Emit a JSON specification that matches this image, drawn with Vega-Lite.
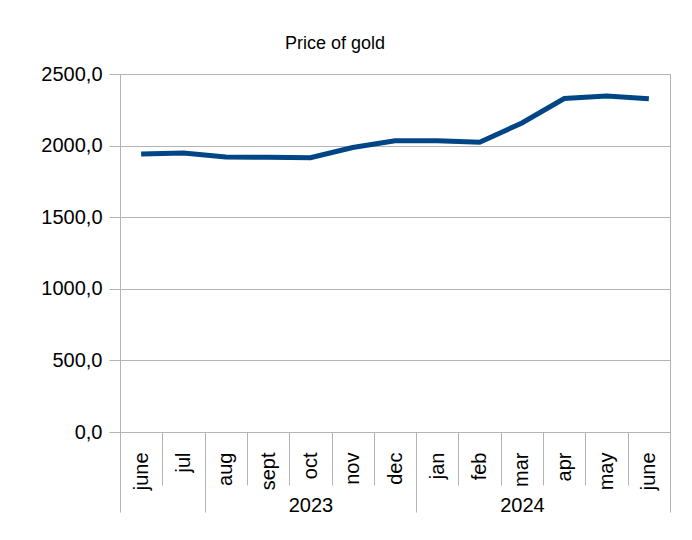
{
  "$schema": "https://vega.github.io/schema/vega-lite/v6.json",
  "autosize": "none",
  "padding": {"left": 120, "top": 74, "right": 22, "bottom": 108},
  "width": 550,
  "height": 358,
  "background": "white",
  "config": {
    "font": "Liberation Sans",
    "view": {"stroke": "#b3b3b3", "strokeWidth": 1},
    "axis": {"labelFont": "Liberation Sans", "labelColor": "#000000", "domainColor": "#b3b3b3", "tickColor": "#b3b3b3", "gridColor": "#b3b3b3", "titleFontSize": 0}
  },
  "title": {"text": "Price of gold", "font": "Liberation Sans", "fontSize": 18, "fontWeight": "normal", "color": "#000000", "baseline": "alphabetic", "offset": -3, "anchor": "middle", "frame": "group", "dx": -60},
  "layer": [
    {
      "data": {"values": [
        {"key": "2023-06", "month": "june", "price": 1942},
        {"key": "2023-07", "month": "jul", "price": 1948},
        {"key": "2023-08", "month": "aug", "price": 1920},
        {"key": "2023-09", "month": "sept", "price": 1918},
        {"key": "2023-10", "month": "oct", "price": 1915},
        {"key": "2023-11", "month": "nov", "price": 1987},
        {"key": "2023-12", "month": "dec", "price": 2033},
        {"key": "2024-01", "month": "jan", "price": 2033},
        {"key": "2024-02", "month": "feb", "price": 2023},
        {"key": "2024-03", "month": "mar", "price": 2158},
        {"key": "2024-04", "month": "apr", "price": 2329},
        {"key": "2024-05", "month": "may", "price": 2346},
        {"key": "2024-06", "month": "june", "price": 2328}
      ]},
      "mark": {"type": "line", "color": "#004586", "strokeWidth": 5, "strokeCap": "butt"},
      "encoding": {
        "x": {
          "field": "key", "type": "ordinal", "sort": null,
          "scale": {"type": "band", "paddingInner": 0, "paddingOuter": 0},
          "axis": {
            "title": null, "orient": "bottom", "domain": true, "domainColor": "#b3b3b3",
            "tickBand": "extent", "tickSize": 53, "ticks": true,
            "labelAngle": -90, "labelAlign": "right", "labelBaseline": "middle",
            "labelPadding": -33, "labelFontSize": 20, "labelOverlap": false,
            "labelExpr": "{'2023-06':'june','2023-07':'jul','2023-08':'aug','2023-09':'sept','2023-10':'oct','2023-11':'nov','2023-12':'dec','2024-01':'jan','2024-02':'feb','2024-03':'mar','2024-04':'apr','2024-05':'may','2024-06':'june'}[datum.value]"
          }
        },
        "y": {
          "field": "price", "type": "quantitative",
          "scale": {"domain": [0, 2500], "nice": false, "zero": true},
          "axis": {
            "title": null, "values": [0, 500, 1000, 1500, 2000, 2500],
            "grid": true, "tickSize": 11, "labelPadding": 7, "labelFontSize": 20,
            "labelExpr": "replace(format(datum.value, '.1f'), '.', ',')"
          }
        }
      }
    },
    {
      "data": {"values": [
        {"group": "", "start": 0, "mid": 1, "end": 2},
        {"group": "2023", "start": 2, "mid": 4.5, "end": 7},
        {"group": "2024", "start": 7, "mid": 9.5, "end": 13}
      ]},
      "mark": {"type": "point", "opacity": 0},
      "encoding": {
        "x": {
          "field": "mid", "type": "quantitative",
          "scale": {"domain": [0, 13], "nice": false, "zero": false},
          "axis": {
            "title": null, "orient": "bottom", "domain": false, "grid": false,
            "values": [0, 2, 4.5, 7, 9.5, 13],
            "tickSize": 80,
            "tickOpacity": {"condition": {"test": "datum.value == 4.5 || datum.value == 9.5", "value": 0}, "value": 1},
            "labelExpr": "datum.value == 4.5 ? '2023' : datum.value == 9.5 ? '2024' : ''",
            "labelBaseline": "alphabetic", "labelPadding": -1, "labelFontSize": 20,
            "labelAlign": "center", "labelAngle": 0, "labelOverlap": false, "labelFlush": false
          }
        }
      }
    }
  ],
  "resolve": {"scale": {"x": "independent"}, "axis": {"x": "independent"}}
}
